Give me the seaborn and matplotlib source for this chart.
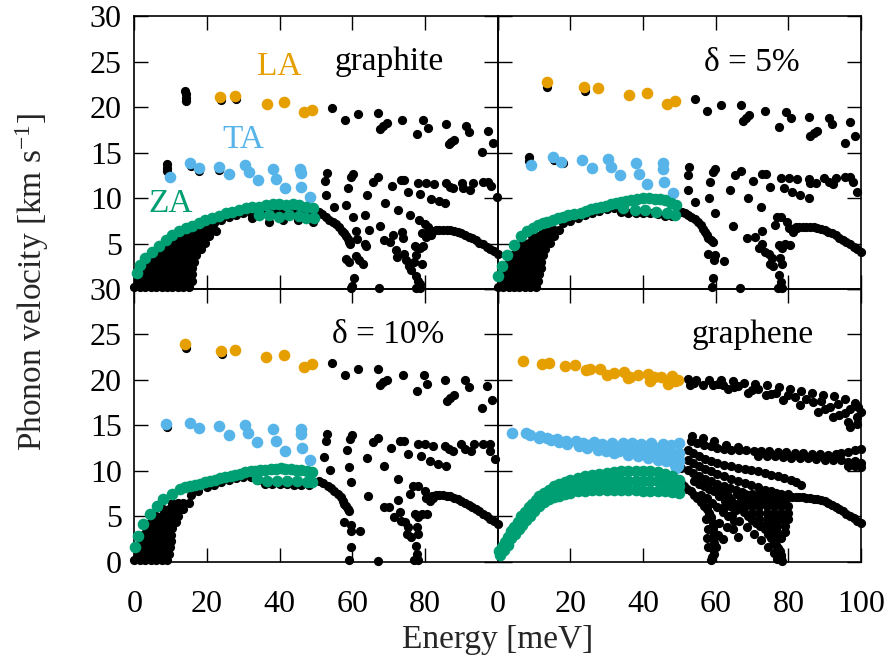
import matplotlib
matplotlib.use("Agg")
import matplotlib.pyplot as plt
import seaborn as sns

sns.set_theme(style="white")
plt.rcParams['font.family'] = ['Liberation Serif', 'DejaVu Serif']
plt.rcParams['mathtext.fontset'] = 'custom'
plt.rcParams['mathtext.rm'] = 'Liberation Serif'
plt.rcParams['mathtext.it'] = 'Liberation Serif:italic'

ORANGE = '#E69F00'
BLUE = '#56B4E9'
GREEN = '#009E73'

X_TICKS = [0, 20, 40, 60, 80, 100]
Y_TICKS = [0, 5, 10, 15, 20, 25, 30]
PANEL_LABELS = ['graphite', 'δ = 5%', 'δ = 10%', 'graphene']
MODE_LABELS = ['LA', 'TA', 'ZA']

# ---------------- graphite ----------------
G_LA = [(23.7, 21.1), (27.8, 21.2), (36.4, 20.3), (41.2, 20.5), (46.7, 19.4), (49.0, 19.7)]
G_TA = [(9.7, 12.3), (15.4, 13.8), (17.7, 13.3), (23.2, 13.4), (26.0, 12.6), (30.6, 13.6),
        (31.5, 12.9), (34.0, 12.0), (38.2, 13.2), (38.9, 12.1), (41.4, 11.1), (45.6, 13.2),
        (45.8, 12.7), (46.0, 11.2), (48.4, 10.1)]
G_ZA = [(0.75, 1.8), (1.7, 2.6), (3.0, 3.4), (4.9, 4.1), (6.7, 4.7), (8.6, 5.4), (10.4, 5.9),
        (12.3, 6.4), (14.1, 6.7), (15.9, 6.9), (17.8, 7.3), (19.6, 7.6), (21.5, 7.8), (23.3, 8.0),
        (25.2, 8.3), (27.0, 8.5), (28.9, 8.7), (30.7, 8.9), (32.5, 9.0), (34.4, 9.0), (36.2, 9.2),
        (38.1, 9.3), (39.9, 9.3), (41.8, 9.2), (43.6, 9.3), (45.4, 9.2), (47.3, 9.0), (49.1, 8.9),
        (34.4, 8.1), (37.2, 8.1), (39.9, 7.9), (42.7, 8.1), (45.4, 8.0), (47.3, 7.8), (49.6, 7.8)]
G_FAN_ROWS = [
    (0.2, [0, 1.5, 3, 4.5, 6, 7.5, 9, 10.5, 12, 13.5, 15]),
    (0.9, [1, 2.5, 4, 5.5, 7, 8.5, 10, 11.5, 13, 14.5, 15.8]),
    (1.6, [2, 3.5, 5, 6.5, 8, 9.5, 11, 12.5, 14, 15.8]),
    (2.3, [2.5, 4, 5.5, 7, 8.5, 10, 11.5, 13, 14.5, 16]),
    (3.0, [3.5, 5, 6.5, 8, 9.5, 11, 12.5, 14, 15.5, 16.5]),
    (3.7, [5, 6.5, 8, 9.5, 11, 12.5, 14, 15.5, 17]),
    (4.4, [7, 8.5, 10, 11.5, 13, 14.5, 16, 17.5, 18.5]),
    (5.1, [9, 10.5, 12, 13.5, 15, 16.5, 18, 19.5]),
    (5.8, [11.5, 13, 14.5, 16, 17.5, 19, 20.5]),
    (6.4, [15, 16.5, 18, 19.5, 21, 22.5]),
]
G_BLACK = [(14.0, 21.8), (14.1, 21.4), (14.2, 21.0), (14.3, 20.7), (23.8, 20.8), (27.9, 20.9),
           (8.9, 13.7), (8.9, 13.35), (9.0, 13.0), (15.6, 13.5), (17.9, 13.0), (23.4, 13.1),
           (20, 7.0), (22, 7.3), (24, 7.6), (26, 7.9), (28, 8.1), (30, 8.3), (32, 8.4), (34, 8.5),
           (36, 8.6), (38, 8.6), (40, 8.6), (42, 8.6), (44, 8.5), (46, 8.4), (48, 8.2),
           (32.5, 7.8), (37.2, 7.4), (40.8, 7.6), (45, 7.6), (49.1, 7.4),
           # high energy
           (54.4, 19.9), (58.1, 18.6), (61.6, 19.2), (67.1, 19.3), (67.6, 17.6), (68.5, 17.9),
           (69.5, 18.2), (73.7, 18.6), (79.4, 18.6), (80.9, 17.7), (77.8, 17.0), (85.7, 18.1),
           (86.5, 15.9), (87.2, 16.1), (87.9, 16.4), (91.4, 17.9), (92.1, 17.2), (97.3, 17.4),
           (98.6, 16.0), (95.7, 15.1),
           (53.0, 12.8), (52.5, 11.9), (60.1, 12.6), (59.6, 12.3), (67.0, 12.3), (65.8, 11.8),
           (58.7, 11.1), (52.7, 10.3), (73.5, 12.0), (74.1, 12.0), (71.0, 11.3), (75.3, 10.7),
           (78.1, 11.7), (80.4, 11.6), (82.4, 11.5), (85.9, 11.6), (86.8, 11.2), (87.7, 11.1),
           (90.1, 11.6), (90.5, 11.1), (92.5, 10.9), (93.3, 11.7), (96.0, 11.8), (97.4, 11.8),
           (98.1, 11.3), (99.7, 10.1), (78.7, 10.4), (81.7, 9.9), (83.9, 9.7), (85.4, 9.4),
           (64.0, 10.3), (68.9, 9.5), (54.9, 9.0), (58.4, 9.2), (72.5, 8.7), (60.1, 7.9),
           (63.6, 8.1), (75.8, 8.1), (78.4, 7.6), (79.9, 7.1), (80.8, 6.8), (67.6, 6.9),
           (64.7, 6.5), (60.9, 6.4), (61.2, 5.5), (63.6, 4.9), (63.9, 4.7), (68.6, 5.4),
           (70.4, 5.2), (71.3, 5.9), (73.7, 6.3), (73.9, 5.6), (79.2, 6.2), (80.3, 5.7), (81.7, 5.9),
           (50.9, 8.5), (51.8, 8.2), (52.7, 7.9), (53.6, 7.6), (54.6, 7.4), (55.5, 7.1), (56.4, 6.8),
           (57.1, 6.4), (57.8, 6.1), (58.3, 5.8), (58.7, 5.5), (59.1, 5.2), (59.4, 4.9),
           (58.4, 3.3), (59.2, 3.0), (61.1, 3.6), (61.8, 3.2), (62.9, 2.8), (60.6, 1.2), (60.0, 0.3),
           (59.7, 0.1), (67.3, 0.1), (71.9, 4.3), (72.3, 3.5), (74.1, 3.9), (74.7, 3.2), (75.6, 2.5),
           (76.2, 2.1), (76.9, 3.0), (77.6, 3.7), (77.2, 4.7), (78.5, 4.5), (79.4, 4.7), (79.2, 2.8),
           (77.4, 1.4), (78.1, 0.9), (78.7, 0.6), (77.4, 0.1), (78.5, 0.1),
           (81, 6.2), (82, 6.4), (83, 6.5), (84, 6.5), (85, 6.5), (86, 6.5), (87, 6.45), (88, 6.35),
           (89, 6.25), (90, 6.1), (91, 5.95), (92, 5.75), (93, 5.55), (94, 5.35), (95, 5.1),
           (96, 4.9), (97, 4.65), (98, 4.45), (99, 4.2), (100, 3.9)]

# ---------------- delta = 5% ----------------
D5_LA = [(13.5, 22.8), (23.9, 22.2), (27.7, 22.1), (36.1, 21.3), (41.1, 21.5), (46.5, 20.3), (48.8, 20.7)]
D5_TA = [(9.1, 13.6), (15.1, 14.5), (17.4, 14.0), (23.1, 14.2), (25.9, 13.3), (30.5, 14.3),
         (31.2, 13.4), (33.8, 12.5), (38.2, 13.8), (38.8, 12.6), (41.2, 11.5), (45.5, 13.8),
         (45.5, 13.2), (45.8, 11.8), (48.2, 10.6)]
D5_ZA = [(0.1, 1.4), (1.3, 2.5), (2.7, 3.7), (4.5, 4.8), (6.4, 5.8), (8.2, 6.4), (9.6, 6.7),
         (11.0, 7.0), (12.4, 7.2), (13.7, 7.4), (15.1, 7.6), (16.5, 7.8), (17.9, 7.95), (19.3, 8.1),
         (21.1, 8.25), (22.9, 8.4), (24.3, 8.6), (25.7, 8.8), (27.1, 8.9), (28.5, 9.0), (29.9, 9.15),
         (31.2, 9.3), (32.6, 9.45), (34.0, 9.6), (35.4, 9.7), (36.8, 9.8), (38.4, 9.9), (40.0, 10.0),
         (41.6, 9.95), (43.2, 9.9), (44.6, 9.85), (46.0, 9.8), (47.6, 9.5), (49.2, 9.2),
         (34.5, 8.9), (37.7, 8.7), (40.5, 8.7), (43.7, 8.5), (46.5, 8.3), (48.8, 8.1)]
D5_FAN_ROWS = [
    (0.2, [0, 1.5, 3, 4.5, 6, 7.5, 9, 10.5]),
    (0.9, [1, 2.5, 4, 5.5, 7, 8.5, 10, 11.2]),
    (1.6, [1.5, 3, 4.5, 6, 7.5, 9, 10.5, 11.5]),
    (2.3, [2, 3.5, 5, 6.5, 8, 9.5, 11, 11.8]),
    (3.0, [3, 4.5, 6, 7.5, 9, 10.5, 12]),
    (3.7, [4, 5.5, 7, 8.5, 10, 11.5, 12.5]),
    (4.4, [5.5, 7, 8.5, 10, 11.5, 13]),
    (5.1, [7, 8.5, 10, 11.5, 13, 14.5]),
    (5.8, [9.5, 11, 12.5, 14, 15.5]),
    (6.5, [12.5, 14, 15.5, 17]),
]
D5_BLACK = [(13.7, 22.2), (24.0, 21.8), (8.7, 14.5), (8.7, 14.1), (15.6, 14.2), (17.9, 13.8),
            (18, 7.2), (20, 7.5), (22, 7.8), (24, 8.1), (26, 8.4), (28, 8.6), (30, 8.8), (32, 8.9),
            (34, 8.5), (36, 8.4), (38, 8.3), (40, 8.3), (42, 8.3), (44, 8.2), (46, 8.0), (48, 8.0),
            (54.3, 20.9), (57.7, 19.6), (61.5, 20.2), (67.0, 20.2), (67.4, 18.5), (68.3, 18.8),
            (69.2, 19.1), (73.6, 19.6), (79.4, 19.5), (80.6, 18.8), (77.5, 17.8), (85.6, 18.9),
            (86.1, 16.8), (87.0, 17.1), (87.9, 17.4), (91.2, 18.8), (91.9, 18.1), (97.1, 18.3),
            (98.3, 16.8), (95.6, 16.0),
            (52.6, 13.4), (52.3, 12.5), (52.3, 10.9), (59.8, 13.2), (59.4, 12.9), (58.4, 11.8),
            (67.0, 13.0), (65.3, 12.5), (64.0, 10.9), (72.7, 12.6), (73.8, 12.6), (70.4, 11.9),
            (75.0, 11.2), (78.1, 12.2), (80.1, 12.2), (82.4, 12.1), (85.6, 12.1), (86.1, 11.7),
            (87.5, 11.6), (89.8, 12.2), (91.2, 11.8), (92.3, 11.5), (93.0, 12.2), (95.6, 12.3),
            (97.1, 12.3), (97.8, 11.8), (99.0, 10.7), (78.7, 11.1), (81.0, 10.7), (83.3, 10.3),
            (85.6, 10.0), (54.3, 9.6), (58.3, 10.0), (69.0, 10.0), (72.5, 9.0),
            (50.6, 8.5), (51.5, 8.3), (52.4, 8.1), (53.3, 7.9), (54.3, 7.7), (55.2, 7.35), (56.1, 7.0),
            (56.6, 6.6), (57.0, 6.3), (57.5, 5.9), (58.0, 5.6), (58.7, 5.4), (59.4, 5.2),
            (59.8, 8.4), (64.9, 6.9), (68.6, 5.6), (70.7, 5.75), (72.7, 6.4), (76.2, 7.0), (76.9, 7.9),
            (78.1, 7.9), (79.6, 7.4), (80.1, 6.7), (81.3, 6.3), (82.4, 6.7), (58.0, 3.9), (59.8, 3.7),
            (62.4, 3.1), (59.6, 3.2), (59.4, 1.2), (59.1, 0.26), (66.7, 0.07), (71.8, 4.5), (72.7, 5.0),
            (73.6, 4.1), (75.5, 3.4), (75.0, 2.8), (75.9, 2.5), (77.3, 4.8), (78.2, 4.5), (79.2, 4.9),
            (80.5, 4.8), (77.8, 3.4), (78.3, 2.8), (77.3, 1.5), (78.1, 0.8), (78.2, 0.15), (77.1, 0.15),
            (74.7, 3.9),
            (81, 6.6), (82, 6.8), (83, 6.85), (84, 6.85), (85, 6.85), (86, 6.85), (87, 6.8), (88, 6.7),
            (89, 6.6), (90, 6.45), (91, 6.3), (92, 6.1), (93, 5.9), (94, 5.65), (95, 5.4),
            (96, 5.15), (97, 4.9), (98, 4.65), (99, 4.4), (100, 4.1)]

# ---------------- delta = 10% ----------------
D10_LA = [(14.0, 24.0), (23.9, 23.2), (27.8, 23.3), (36.3, 22.5), (41.2, 22.7), (46.7, 21.4), (49.0, 21.8)]
D10_TA = [(8.8, 15.2), (15.4, 15.3), (17.7, 14.7), (23.2, 14.9), (26.0, 14.0), (30.6, 15.0),
          (31.2, 14.2), (33.8, 13.2), (38.2, 14.6), (38.9, 13.3), (41.4, 12.2), (45.8, 14.6),
          (45.8, 14.1), (46.1, 12.5), (48.4, 11.2)]
D10_ZA = [(0.2, 1.6), (1.1, 2.9), (2.5, 4.2), (4.3, 5.3), (6.2, 6.2), (8.0, 6.9), (10.3, 7.5),
          (12.6, 8.0), (14.0, 8.2), (15.4, 8.4), (16.8, 8.5), (18.2, 8.6), (19.5, 8.75), (20.9, 8.9),
          (22.3, 9.05), (23.7, 9.2), (25.1, 9.35), (26.5, 9.5), (27.8, 9.6), (29.2, 9.7), (30.6, 9.85),
          (32.0, 10.0), (33.3, 10.05), (34.7, 10.1), (36.1, 10.15), (37.5, 10.2), (38.9, 10.25),
          (40.3, 10.3), (41.6, 10.25), (43.0, 10.2), (44.4, 10.15), (45.8, 10.1), (47.4, 10.0),
          (49.0, 9.9),
          (33.8, 9.1), (36.6, 8.9), (39.4, 8.9), (42.1, 8.9), (44.9, 8.9), (47.6, 8.8), (49.0, 8.8)]
D10_FAN_ROWS = [
    (0.2, [0, 1.5, 3, 4.5, 6, 7.5, 9]),
    (0.9, [1, 2.5, 4, 5.5, 7, 8.5, 9.5]),
    (1.6, [1.2, 2.7, 4.2, 5.7, 7.2, 8.7, 9.8]),
    (2.3, [1.8, 3.3, 4.8, 6.3, 7.8, 9.3, 10]),
    (3.0, [2.5, 4, 5.5, 7, 8.5, 10]),
    (3.7, [3.3, 4.8, 6.3, 7.8, 9.3, 10.5]),
    (4.4, [4.5, 6, 7.5, 9, 10.5, 11.5]),
    (5.1, [6, 7.5, 9, 10.5, 12]),
    (5.8, [8, 9.5, 11, 12.5, 13.5]),
    (6.5, [10.5, 12, 13.5, 15]),
]
D10_BLACK = [(14.3, 23.5), (24.1, 22.9), (9.1, 14.8),
             (15.5, 7.4), (17.5, 7.8), (20, 8.2), (22, 8.5), (24, 8.8), (26, 9.0), (28, 9.2),
             (30, 9.3), (32, 9.3), (34, 9.0), (36, 8.6), (38, 8.6), (40, 8.6), (42, 8.6), (44, 8.5),
             (46, 8.5), (48, 8.5),
             (54.4, 21.9), (58.1, 20.6), (61.7, 21.2), (67.2, 21.2), (67.5, 19.5), (68.5, 19.8),
             (69.6, 20.0), (73.9, 20.6), (79.6, 20.6), (80.6, 19.6), (77.8, 18.8), (85.4, 20.0),
             (86.1, 17.7), (87.0, 18.0), (88.0, 18.4), (91.0, 20.0), (92.1, 19.2), (97.2, 19.3),
             (98.5, 17.8), (95.6, 16.9),
             (53.0, 14.1), (52.7, 13.3), (52.3, 11.5), (59.8, 14.0), (59.4, 13.5), (58.5, 12.3),
             (67.0, 13.6), (65.6, 13.2), (64.1, 11.4), (73.0, 13.3), (74.2, 13.3), (70.7, 12.5),
             (75.3, 11.9), (78.2, 13.0), (80.1, 13.0), (82.3, 12.8), (85.6, 12.7), (86.5, 12.4),
             (87.7, 12.2), (90.0, 13.0), (91.0, 12.4), (92.6, 12.2), (93.5, 13.0), (96.0, 13.0),
             (97.9, 13.0), (97.9, 12.2), (99.3, 11.3), (79.0, 11.6), (81.3, 11.1), (83.6, 10.8),
             (85.9, 10.5), (53.9, 10.1), (59.2, 10.4), (68.8, 10.5), (72.5, 9.1),
             (50.9, 8.9), (52.0, 8.65), (53.2, 8.4), (54.1, 8.1), (55.0, 7.8), (56.0, 7.45), (56.9, 7.1),
             (57.4, 6.75), (57.8, 6.4), (58.3, 6.1), (58.7, 5.8), (59.2, 5.6),
             (59.6, 8.8), (64.2, 7.3), (68.8, 6.0), (70.2, 6.0), (72.5, 6.8), (76.0, 7.5), (76.7, 8.3),
             (78.1, 8.3), (79.9, 7.8), (80.4, 7.0), (81.3, 6.7), (82.2, 7.0), (57.8, 4.4), (59.6, 4.1),
             (62.2, 3.4), (59.6, 3.4), (59.6, 1.6), (59.2, 0.2), (67.0, 0.07), (71.6, 4.9), (73.0, 5.5),
             (73.5, 4.5), (75.3, 3.9), (75.1, 3.1), (76.2, 2.7), (77.3, 5.3), (78.2, 4.9), (79.2, 5.3),
             (80.6, 5.3), (77.9, 3.8), (78.2, 3.1), (77.6, 1.8), (77.9, 0.9), (78.1, 0.2), (77.1, 0.2),
             (74.6, 4.4),
             (81, 7.0), (82, 7.2), (83, 7.35), (84, 7.4), (85, 7.4), (86, 7.3), (87, 7.2), (88, 7.05),
             (89, 6.9), (90, 6.7), (91, 6.5), (92, 6.3), (93, 6.05), (94, 5.8), (95, 5.55),
             (96, 5.3), (97, 5.0), (98, 4.75), (99, 4.5), (100, 4.2)]

# ---------------- graphene ----------------
GR_LA = [(7.0, 22.05), (12.3, 21.8), (14.1, 21.9), (18.5, 21.5), (21.2, 21.6), (24.2, 21.1),
         (25.4, 21.2), (28.1, 21.2), (30.2, 20.6), (32.1, 20.8), (34.7, 20.9), (35.9, 20.2),
         (36.5, 20.3), (38.5, 20.5), (41.5, 20.7), (41.8, 19.9), (42.9, 20.3), (45.0, 20.3),
         (47.0, 19.6), (47.9, 20.4), (48.7, 19.9), (49.6, 20.0)]
GR_TA = [(4.0, 14.2), (7.7, 14.2), (9.0, 14.0), (11.6, 13.9), (13.6, 13.6), (16.2, 13.5),
         (18.7, 13.3), (21.5, 13.3), (23.6, 13.1), (26.4, 13.2), (28.6, 13.0), (31.6, 13.1),
         (34.4, 13.1), (37.1, 13.1), (39.4, 13.0), (42.2, 13.1), (45.4, 13.0), (47.7, 12.9),
         (50.0, 13.1), (22.4, 12.8), (24.7, 12.5), (27.5, 12.3), (29.8, 12.2), (32.1, 12.0),
         (32.8, 12.5), (35.3, 12.3), (35.8, 11.8), (38.1, 12.2), (38.5, 11.6), (40.8, 12.0),
         (41.3, 11.4), (43.3, 11.8), (44.1, 11.2), (45.9, 11.6), (46.4, 11.1), (48.2, 11.2),
         (48.7, 10.7), (49.1, 10.3), (50.0, 12.0), (50.0, 11.1), (35.8, 12.7), (41.3, 12.3),
         (46.4, 12.1), (30.2, 12.6), (27.5, 12.8), (19.2, 13.0), (16.9, 13.2), (14.6, 13.4),
         (11.3, 13.6), (25.0, 12.9), (27.9, 12.6), (30.6, 12.4), (33.4, 12.2), (36.2, 12.0),
         (38.9, 11.9), (41.7, 11.7), (44.6, 11.5), (47.2, 11.4), (49.5, 11.5), (49.6, 10.6),
         (48.9, 11.8), (46.8, 12.4), (44.0, 12.5), (39.8, 12.5), (37.5, 12.6), (34.0, 12.6)]
GR_ZA_UPPER_X = [0.3, 1.2, 2.0, 2.8, 3.6, 4.5, 5.5, 6.5, 7.5, 8.5, 9.5, 10.5, 11.5, 12.7, 14, 15.5,
                 17, 18.5, 20, 22, 24, 26, 28, 30, 32, 34, 36, 38, 40, 42, 44, 46, 48, 50]
GR_ZA_UPPER_Y = [1.2, 1.7, 2.2, 2.8, 3.4, 3.9, 4.4, 5.0, 5.5, 6.0, 6.4, 6.8, 7.2, 7.6, 7.9, 8.3,
                 8.6, 8.8, 9.0, 9.25, 9.45, 9.6, 9.7, 9.8, 9.9, 9.95, 10.0, 10.0, 10.0, 9.95, 9.85,
                 9.7, 9.5, 9.0]
GR_ZA_MID_X = [4, 6, 8, 10, 12, 14, 16, 18, 20, 22, 24, 26, 28, 30, 32, 34, 36, 38, 40, 42, 44,
               46, 48, 50]
GR_ZA_MID_Y = [3.4, 4.2, 5.1, 5.9, 6.8, 7.4, 7.8, 8.1, 8.3, 8.5, 8.65, 8.75, 8.8, 8.85, 8.9, 8.95,
               8.95, 8.95, 8.95, 8.9, 8.85, 8.75, 8.6, 8.3]
GR_ZA_LOWER_X = [0.7, 1.8, 2.8, 3.8, 4.8, 5.8, 6.8, 7.8, 8.8, 10, 11.3, 12.7, 14, 15.5, 17, 18.5,
                 20, 22, 24, 26, 28, 30, 32, 34, 36, 38, 40, 42, 44, 46, 48, 50]
GR_ZA_LOWER_Y = [0.8, 1.3, 1.9, 2.6, 3.1, 3.6, 4.1, 4.6, 5.0, 5.6, 6.1, 6.6, 6.9, 7.1, 7.3, 7.5,
                 7.6, 7.75, 7.85, 7.9, 7.9, 7.9, 7.9, 7.9, 7.9, 7.9, 7.8, 7.8, 7.8, 7.75, 7.7, 7.6]
GR_BLACK = [(52.3, 20.1), (54.6, 20.0), (58.2, 20.0), (61.5, 20.0), (64.7, 19.9), (67.7, 19.7),
            (70.9, 19.6), (74.2, 19.4), (77.3, 19.2), (80.4, 19.0), (83.4, 18.8), (86.4, 18.6),
            (89.6, 18.4), (92.6, 18.2), (95.6, 17.9), (98.3, 17.5),
            (53.0, 19.4), (54.0, 19.7), (56.4, 19.5), (59.2, 19.4), (60.6, 19.6), (62.0, 19.45),
            (63.3, 19.0), (65.0, 19.2), (66.1, 19.3), (68.9, 18.6), (70.0, 18.9), (71.6, 19.0),
            (73.9, 18.3), (75.3, 18.5), (76.7, 18.6), (78.5, 17.8), (80.0, 18.3), (81.8, 18.1),
            (83.1, 17.2), (85.0, 17.9), (86.8, 17.6), (88.2, 16.5), (89.1, 17.7), (90.0, 16.8),
            (91.4, 17.0), (92.3, 15.9), (93.7, 17.4), (94.0, 16.2), (95.6, 16.4), (96.5, 15.4),
            (96.9, 14.8), (97.0, 16.8), (98.8, 15.9), (98.8, 15.2), (99.3, 17.0), (100, 16.5),
            # fan rows
            (53.2, 13.3), (55.0, 13.1), (56.9, 12.9), (58.7, 12.7), (60.5, 12.5), (62.4, 12.4),
            (64.2, 12.3), (66.3, 12.3), (68.4, 12.3), (70.5, 12.25), (72.5, 12.2), (74.8, 12.15),
            (77.1, 12.1), (79.4, 12.05), (81.8, 12.0), (84.1, 11.95), (86.4, 11.9), (88.7, 11.85),
            (91.0, 11.8), (93.0, 11.9), (94.6, 12.0), (96.5, 12.1), (98.3, 12.3), (100, 12.4),
            (52.3, 12.3), (53.9, 12.0), (55.5, 11.6), (57.1, 11.35), (58.7, 11.1), (60.5, 10.9),
            (62.4, 10.7), (64.2, 10.5), (66.1, 10.3), (68.0, 10.2), (69.8, 10.1), (71.6, 9.95),
            (73.5, 9.8), (75.3, 9.6), (77.1, 9.4), (78.9, 9.2), (80.8, 9.0), (82.2, 8.75), (83.6, 8.5),
            (52.3, 11.2), (53.9, 10.85), (55.5, 10.5), (57.1, 10.25), (58.7, 10.0), (60.5, 9.7),
            (62.4, 9.4), (64.2, 9.15), (66.1, 8.9), (68.0, 8.7), (69.8, 8.5), (71.6, 8.2),
            (73.5, 7.9), (75.1, 7.75), (76.7, 7.6),
            (52.3, 10.1), (53.9, 9.75), (55.5, 9.4), (57.1, 9.15), (58.7, 8.9), (60.5, 8.6),
            (62.4, 8.3), (64.0, 8.1), (65.6, 7.9), (67.2, 7.65), (68.8, 7.4), (70.5, 7.2), (72.1, 7.0),
            (54.1, 8.9), (55.5, 8.6), (56.9, 8.3), (58.3, 8.05), (59.6, 7.8),
            (71.6, 11.6), (74.0, 11.6), (76.2, 11.6), (78.5, 11.5), (80.8, 11.4), (83.1, 11.4),
            (85.4, 11.4), (87.7, 11.3), (90.0, 11.2), (92.3, 11.2), (94.6, 11.2), (96.5, 11.0),
            (98.3, 11.1), (100, 10.9), (96.5, 10.5), (98.3, 10.5), (100, 10.4),
            (53.6, 13.8), (56.4, 13.6), (59.6, 13.3), (62.9, 12.9), (66.1, 12.6), (50.4, 10.3),
            # ZA continuation and lower branches
            (50.4, 8.7), (51.3, 8.3), (52.2, 8.05), (53.2, 7.8), (54.1, 7.4), (55.0, 7.0), (56.0, 6.6),
            (56.9, 6.2), (57.6, 5.8), (58.3, 5.4), (58.8, 4.9), (59.2, 4.3), (59.4, 3.7), (59.6, 3.2),
            (59.6, 2.6), (59.6, 2.1), (59.4, 1.4), (58.9, 0.6), (58.7, 0.2), (60.1, 1.6), (59.6, 0.9),
            (60.5, 8.3), (61.5, 7.9), (62.4, 7.6), (63.3, 7.2), (64.2, 6.8), (65.4, 6.35), (66.5, 5.9),
            (67.7, 5.45), (68.8, 5.0), (70.0, 4.65), (71.2, 4.3), (72.3, 3.95), (73.5, 3.6), (74.4, 3.1),
            (75.3, 2.6), (76.0, 2.25), (76.7, 1.9), (77.2, 1.55), (77.6, 1.2), (77.9, 0.8), (78.1, 0.4),
            (78.2, 0.1),
            (62.4, 6.0), (64.5, 5.2), (66.5, 4.5), (68.5, 3.8), (70.5, 3.1), (72.5, 2.4), (74.5, 1.7),
            (76.0, 1.0), (77.0, 0.3),
            (66, 7.5), (68, 7.5), (70, 7.5), (72, 7.5), (74, 7.5), (76, 7.5), (78, 7.5), (80, 7.5),
            (67, 6.8), (69, 6.8), (71, 6.8), (73, 6.8), (75, 6.8), (77, 6.8), (79, 6.8),
            (68, 6.1), (70, 6.1), (72, 6.1), (74, 6.1), (76, 6.1), (78, 6.1), (80, 6.1),
            (70, 5.4), (72, 5.4), (74, 5.4), (76, 5.4), (78, 5.4), (80, 5.4),
            (72, 4.7), (74, 4.7), (76, 4.7), (78, 4.7), (80, 4.7),
            (73, 4.0), (75, 4.0), (77, 4.0), (79, 4.0), (75, 3.3), (77, 3.3), (79, 3.3), (76, 2.6), (78, 2.6),
            (56.0, 7.4), (57.5, 7.0), (59.0, 6.5), (60.5, 6.0), (62.0, 5.5), (63.5, 5.0), (65.0, 4.5),
            (61.0, 7.2), (62.5, 6.7), (64.0, 6.2), (65.5, 5.7), (57.3, 4.7), (57.8, 3.6), (60.6, 3.0),
            (62.0, 2.5), (61.0, 4.3), (63.0, 3.8), (64.7, 3.6), (57.6, 2.6), (58.0, 1.6), (66.1, 2.8),
            (80, 7.1), (81, 7.1), (82, 7.1), (83, 7.1), (84, 7.1), (85, 7.05), (86, 7.0), (87, 6.95),
            (88, 6.9), (89, 6.8), (90, 6.7), (91, 6.5), (92, 6.3), (93, 6.05), (94, 5.8), (95, 5.55),
            (96, 5.3), (97, 5.05), (98, 4.8), (99, 4.55), (100, 4.3)]


def split(pairs):
    return [p[0] for p in pairs], [p[1] for p in pairs]


def expand_rows(rows):
    xs, ys = [], []
    for yv, xlist in rows:
        for xv in xlist:
            xs.append(xv)
            ys.append(yv)
    return xs, ys


BLACK_S = 44
COLOR_S = 70

fig, axes = plt.subplots(2, 2, figsize=(8.88, 6.56), dpi=100,
                         gridspec_kw=dict(hspace=0, wspace=0, left=0.1512, right=0.9696,
                                          bottom=0.1433, top=0.9756))
panel_axes = [axes[0, 0], axes[0, 1], axes[1, 0], axes[1, 1]]

panels = [
    (G_BLACK, G_FAN_ROWS, G_LA, G_TA, [split(G_ZA)]),
    (D5_BLACK, D5_FAN_ROWS, D5_LA, D5_TA, [split(D5_ZA)]),
    (D10_BLACK, D10_FAN_ROWS, D10_LA, D10_TA, [split(D10_ZA)]),
    (GR_BLACK, [], GR_LA, GR_TA, [(GR_ZA_UPPER_X, GR_ZA_UPPER_Y), (GR_ZA_MID_X, GR_ZA_MID_Y),
                                   (GR_ZA_LOWER_X, GR_ZA_LOWER_Y)]),
]

for ax, (black, fan, la, ta, za_list) in zip(panel_axes, panels):
    ax.set_facecolor('none')
    bx, by = split(black)
    fx, fy = expand_rows(fan)
    sns.scatterplot(x=bx + fx, y=by + fy, ax=ax, color='black', s=BLACK_S, linewidth=0,
                    clip_on=False, zorder=3, legend=False)
    lx, ly = split(la)
    sns.scatterplot(x=lx, y=ly, ax=ax, color=ORANGE, s=COLOR_S, linewidth=0,
                    clip_on=False, zorder=4, legend=False)
    tx, ty = split(ta)
    sns.scatterplot(x=tx, y=ty, ax=ax, color=BLUE, s=COLOR_S, linewidth=0,
                    clip_on=False, zorder=4, legend=False)
    for zx, zy in za_list:
        sns.scatterplot(x=zx, y=zy, ax=ax, color=GREEN, s=COLOR_S, linewidth=0,
                        clip_on=False, zorder=4, legend=False)
    ax.set_xlim(0, 100)
    ax.set_ylim(0, 30)
    ax.set_xticks(X_TICKS)
    ax.set_yticks(Y_TICKS)
    ax.set_xlabel('')
    ax.set_ylabel('')
    ax.tick_params(direction='in', length=10, width=1.0, top=True, right=True,
                   bottom=True, left=True, labelsize=23, colors='black')
    ax.tick_params(axis='y', pad=9)
    ax.tick_params(axis='x', pad=20)
    for sp in ax.spines.values():
        sp.set_linewidth(1.2)
        sp.set_color('black')
        sp.set_visible(True)

axes[0, 0].tick_params(labelbottom=False, labelleft=True)
axes[0, 0].set_yticklabels(['', '5', '10', '15', '20', '25', '30'])
axes[0, 1].tick_params(labelbottom=False, labelleft=False)
axes[1, 0].tick_params(labelbottom=True, labelleft=True)
axes[1, 0].set_xticklabels(['0', '20', '40', '60', '80', ''])
axes[1, 1].tick_params(labelbottom=True, labelleft=False)

# panel titles
TEXT_FS = 24
axes[0, 0].text(70.3, 24.1, PANEL_LABELS[0], ha='center', va='baseline', fontsize=TEXT_FS, color='black')
axes[0, 1].text(70.0, 24.0, PANEL_LABELS[1], ha='center', va='baseline', fontsize=TEXT_FS, color='black')
axes[1, 0].text(70.0, 24.1, PANEL_LABELS[2], ha='center', va='baseline', fontsize=TEXT_FS, color='black')
axes[1, 1].text(70.3, 24.1, PANEL_LABELS[3], ha='center', va='baseline', fontsize=TEXT_FS, color='black')

axes[0, 0].text(39.9, 23.5, MODE_LABELS[0], ha='center', va='baseline', fontsize=TEXT_FS, color=ORANGE)
axes[0, 0].text(29.9, 15.5, MODE_LABELS[1], ha='center', va='baseline', fontsize=TEXT_FS, color=BLUE)
axes[0, 0].text(9.9, 8.5, MODE_LABELS[2], ha='center', va='baseline', fontsize=TEXT_FS, color=GREEN,
                zorder=5)

fig.text(0.036, 0.57, 'Phonon velocity [km s$^{\\mathregular{-1}}$]', rotation=90,
         ha='center', va='center', fontsize=24)
fig.text(0.56, 0.025, 'Energy [meV]', ha='center', va='center', fontsize=24)

fig.savefig('out.png', dpi=100)
